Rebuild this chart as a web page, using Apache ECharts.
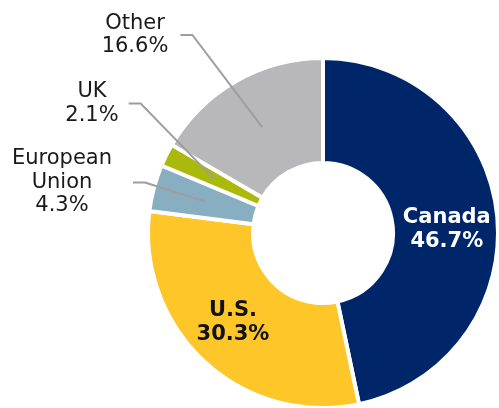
<!DOCTYPE html>
<html><head><meta charset="utf-8">
<script src="https://cdn.jsdelivr.net/npm/echarts@6/dist/echarts.min.js"></script>
<style>html,body{margin:0;padding:0;background:#fff}#c{width:499px;height:408px}</style>
</head><body><div id="c"></div>
<script>
// ---- data ----
const categories = ['Canada', 'U.S.', 'European Union', 'UK', 'Other'];
const labelNames = ['Canada', 'U.S.', 'European\nUnion', 'UK', 'Other'];
const shares = [46.7, 30.3, 4.3, 2.1, 16.6];

// ---- styles / layout ----
const colors = ['#00266A', '#FFC629', '#87AFC1', '#A9BA0B', '#B8B8BA'];
const insideStyle = {
  0: { color: '#ffffff', offset: [-1, 10] },
  1: { color: '#111111', offset: [-5, -3] }
};
const outsideLayout = {
  2: { x: 62, y: 182.5, padding: [2, 21, 0, 21] },
  3: { x: 92, y: 103.5, padding: [0, 10, 0, 10] },
  4: { x: 135, y: 35, padding: [4, 12, 0, 12] }
};
const FONT = 'DejaVu Sans';
const CENTER = [323, 233];

const fmt = p => labelNames[p.dataIndex] + '\n' + p.value.toFixed(1) + '%';

const chart = echarts.init(document.getElementById('c'), null, { renderer: 'canvas' });

const ringData = categories.map((name, i) => ({
  name, value: shares[i],
  itemStyle: { color: colors[i] },
  label: insideStyle[i]
    ? { show: true, position: 'inside', color: insideStyle[i].color, offset: insideStyle[i].offset }
    : { show: false }
}));

const guideData = categories.map((name, i) => ({
  name, value: shares[i],
  label: outsideLayout[i] ? { show: true, padding: outsideLayout[i].padding } : { show: false },
  labelLine: { show: !!outsideLayout[i] }
}));

chart.setOption({
  animation: false,
  backgroundColor: '#ffffff',
  series: [
    {
      type: 'pie', z: 2, center: CENTER, radius: [70, 175], startAngle: 90, clockwise: true,
      silent: true, avoidLabelOverlap: false,
      itemStyle: { borderColor: '#ffffff', borderWidth: 4 },
      label: { formatter: fmt, fontFamily: FONT, fontSize: 21, fontWeight: 'bold', lineHeight: 24, align: 'center' },
      labelLine: { show: false },
      emphasis: { disabled: true },
      data: ringData
    },
    {
      type: 'pie', z: 10, center: CENTER, radius: [0, 122], startAngle: 90, clockwise: true,
      silent: true, avoidLabelOverlap: false,
      itemStyle: { color: 'rgba(0,0,0,0)', borderWidth: 0 },
      label: { position: 'outside', formatter: fmt, fontFamily: FONT, fontSize: 21, lineHeight: 23.5, color: '#1a1a1a', align: 'center' },
      labelLine: { show: true, length: 20, length2: 12, minTurnAngle: 0, lineStyle: { color: '#9e9e9e', width: 2 } },
      labelLayout: function (p) {
        const L = outsideLayout[p.dataIndex];
        if (!L) return {};
        return { x: L.x, y: L.y, align: 'center', verticalAlign: 'middle' };
      },
      emphasis: { disabled: true },
      data: guideData
    }
  ]
});
</script>
</body></html>
